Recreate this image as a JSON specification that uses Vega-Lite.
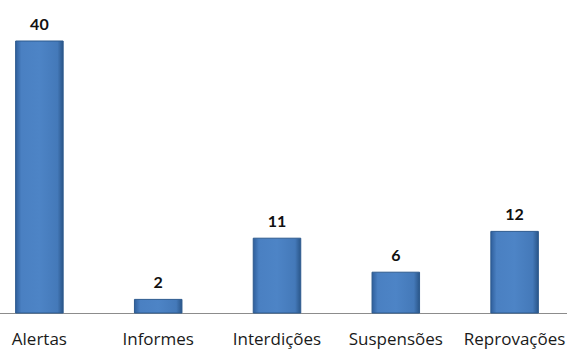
{
  "$schema": "https://vega.github.io/schema/vega-lite/v6.json",
  "width": 567,
  "height": 313,
  "padding": {"left": 0, "top": 0, "right": 0, "bottom": 38},
  "autosize": {"type": "none"},
  "background": "#ffffff",
  "view": {"stroke": null},
  "data": {"values": [
    {"categoria": "Alertas", "valor": 40},
    {"categoria": "Informes", "valor": 2},
    {"categoria": "Interdições", "valor": 11},
    {"categoria": "Suspensões", "valor": 6},
    {"categoria": "Reprovações", "valor": 12}
  ]},
  "encoding": {
    "x": {
      "field": "categoria", "type": "nominal", "sort": null,
      "scale": {"range": [-20, 574], "paddingInner": 0.6, "paddingOuter": 0.3},
      "axis": {
        "title": null, "labelAngle": 0, "ticks": false,
        "domainColor": "#8c8c8c", "domainWidth": 1,
        "labelFont": "Open Sans", "labelFontSize": 17, "labelColor": "#1a1a1a",
        "labelPadding": 18
      }
    },
    "y": {
      "field": "valor", "type": "quantitative",
      "scale": {"domain": [0, 46.03], "nice": false},
      "axis": null
    }
  },
  "layer": [
    {
      "mark": {
        "type": "bar",
        "stroke": "#2d5a8e", "strokeWidth": 1,
        "fill": {
          "x1": 0, "y1": 0, "x2": 1, "y2": 0,
          "gradient": "linear",
          "stops": [
            {"offset": 0, "color": "#2f5f9c"},
            {"offset": 0.12, "color": "#4a80c2"},
            {"offset": 0.5, "color": "#4d84c6"},
            {"offset": 0.88, "color": "#4479b9"},
            {"offset": 1, "color": "#2a5689"}
          ]
        }
      }
    },
    {
      "mark": {"type": "text", "dy": -16, "fontWeight": "bold", "fontSize": 16, "font": "Lato", "color": "#111111"},
      "encoding": {"text": {"field": "valor", "type": "quantitative"}}
    }
  ]
}
